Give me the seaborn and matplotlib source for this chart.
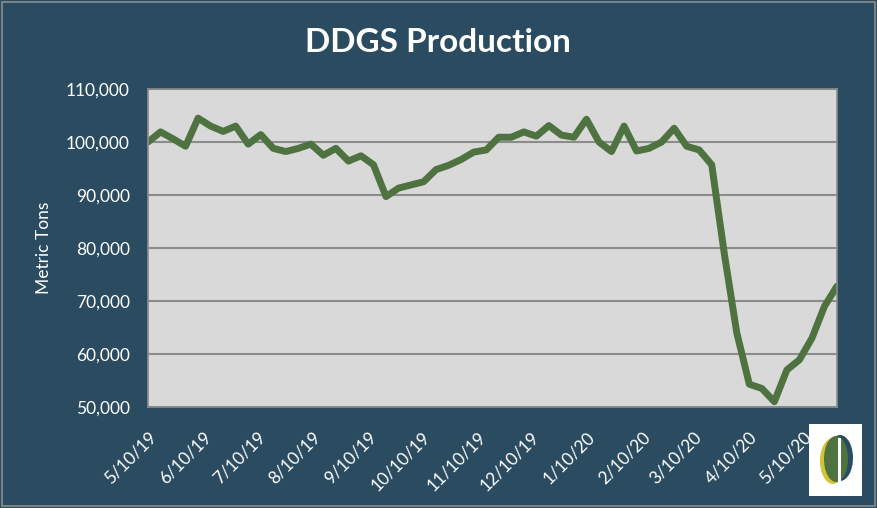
import matplotlib
matplotlib.use("Agg")
import matplotlib.pyplot as plt
from matplotlib.patches import Rectangle, Ellipse
import seaborn as sns
import pandas as pd

# ---- data ----
start_date = "2019-05-10"
n_weeks = 56
production = [100.0, 101.9, 100.6, 99.2, 104.5, 103.0, 102.0, 103.0, 99.6, 101.4,
              98.8, 98.2, 98.8, 99.6, 97.5, 98.8, 96.4, 97.4, 95.7, 89.7,
              91.3, 91.9, 92.5, 94.8, 95.6, 96.7, 98.1, 98.5, 100.9, 100.9,
              101.9, 101.1, 103.1, 101.3, 100.9, 104.3, 100.0, 98.2, 103.0, 98.3,
              98.8, 100.0, 102.6, 99.2, 98.5, 95.7, 79.0, 64.0, 54.3, 53.5,
              51.0, 57.0, 58.9, 63.0, 69.0, 72.8]
production = [v * 1000 for v in production]
tick_dates = ["2019-05-10", "2019-06-10", "2019-07-10", "2019-08-10", "2019-09-10",
              "2019-10-10", "2019-11-10", "2019-12-10", "2020-01-10", "2020-02-10",
              "2020-03-10", "2020-04-10", "2020-05-10"]
tick_labels = ["5/10/19", "6/10/19", "7/10/19", "8/10/19", "9/10/19", "10/10/19",
               "11/10/19", "12/10/19", "1/10/20", "2/10/20", "3/10/20", "4/10/20", "5/10/20"]
y_ticks = [50000, 60000, 70000, 80000, 90000, 100000, 110000]

dates = pd.date_range(start_date, periods=n_weeks, freq="7D")
df = pd.DataFrame({"date": dates, "tons": production})

BG = "#2B4C60"
GRID = "#8C8C8C"
sns.set_theme(style="white")
plt.rcParams["font.family"] = ["Lato", "DejaVu Sans"]

fig = plt.figure(figsize=(8.77, 5.08), dpi=100)
fig.patch.set_facecolor(BG)
ax = fig.add_axes([148/877, 1-407/508, (837-148)/877, (407-89)/508])
ax.set_facecolor("#D9D9D9")

sns.lineplot(data=df, x="date", y="tons", ax=ax, color="#4E7340", linewidth=5.0,
             solid_joinstyle="round", solid_capstyle="round")

ax.set_xlim(dates[0], dates[-1])
ax.set_ylim(50000, 110000)
ax.set_yticks(y_ticks)
ax.set_yticklabels([f"{v:,}" for v in y_ticks], color="white", fontsize=12.5)
ax.set_xticks(pd.to_datetime(tick_dates))
ax.set_xticklabels(tick_labels, rotation=45, ha="right", rotation_mode="anchor",
                   color="white", fontsize=12.5)
ax.yaxis.grid(True, color=GRID, linewidth=1.5)
ax.set_axisbelow(True)
for s in ax.spines.values():
    s.set_color(GRID)
    s.set_linewidth(1.2)
ax.tick_params(axis="both", which="major", length=5, width=1.2, color=GRID,
               direction="out")
ax.tick_params(axis="y", pad=8)
ax.tick_params(axis="x", pad=11)
ax.set_xlabel("")
ax.set_ylabel("Metric Tons", color="white", fontsize=12.5, labelpad=10)

fig.text(438/877, 1-52/508, "DDGS Production", color="white", fontsize=24,
         fontweight="bold", ha="center", va="baseline")

# thin figure border
fig.patches.append(Rectangle((2/877, 2/508), 873/877, 504/508,
                             transform=fig.transFigure, facecolor="none",
                             edgecolor=GRID, linewidth=1.2))

# logo-like badge in bottom-right
fig.patches.append(Rectangle((809/877, 1-496/508), 53/877, 72/508,
                             transform=fig.transFigure, facecolor="white",
                             edgecolor="none"))
fig.patches.append(Ellipse((833/877, 1-461/508), 26/877, 46/508,
                           transform=fig.transFigure, facecolor="#D4C534",
                           edgecolor="none"))
fig.patches.append(Ellipse((840/877, 1-458/508), 26/877, 46/508,
                           transform=fig.transFigure, facecolor="#2B4C60",
                           edgecolor="none"))
fig.patches.append(Ellipse((836/877, 1-459/508), 24/877, 46/508,
                           transform=fig.transFigure, facecolor="#4E7340",
                           edgecolor="none"))
fig.patches.append(Rectangle((838/877, 1-482/508), 3/877, 44/508,
                             transform=fig.transFigure, facecolor="white",
                             edgecolor="none"))

fig.savefig("out.png", dpi=100, facecolor=BG)
